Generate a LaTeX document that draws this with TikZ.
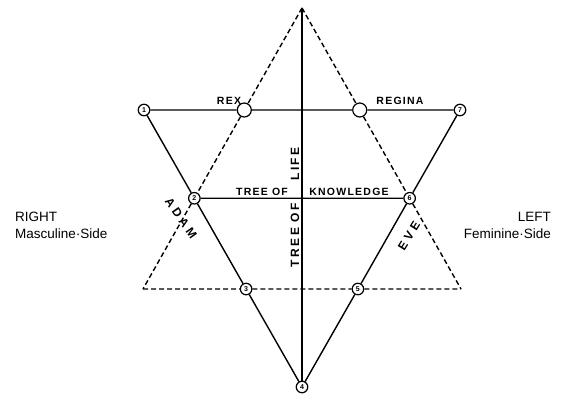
\documentclass[tikz,border=0pt]{standalone}
\usepackage{fontspec}
\setmainfont{Liberation Sans}
\newfontfamily\starfont[LetterSpace=12]{Liberation Sans}
\newfontfamily\lifefont[LetterSpace=20]{Liberation Sans}
\newfontfamily\namefont[LetterSpace=28]{Liberation Sans}

\begin{document}
\begin{tikzpicture}[x=1pt,y=-1pt,
 num/.style={draw,circle,line width=1.2pt,inner sep=0pt,minimum size=11.5pt,font=\fontsize{7}{7}\selectfont\bfseries},
 ring/.style={draw,circle,line width=1.2pt,inner sep=0pt,minimum size=14pt},
 solidline/.style={line width=1.4pt},
 dashline/.style={line width=1.4pt,dash pattern=on 5pt off 3pt},
 lbl/.style={font=\starfont\bfseries\fontsize{10.5}{10.5}\selectfont,inner sep=0pt},
 lifelbl/.style={font=\lifefont\bfseries\fontsize{12}{12}\selectfont,inner sep=0pt,rotate=90},
 namelbl/.style={font=\namefont\bfseries\fontsize{12}{12}\selectfont,inner sep=0pt},
 side/.style={font=\fontsize{13.5}{17}\selectfont,inner sep=0pt}]
 \useasboundingbox (0,0) rectangle (566,415);
 % corners of the two triangles
 \coordinate (top) at (302,8);
 \coordinate (bl) at (143,289);
 \coordinate (br) at (461,289);
 \coordinate (c1) at (144,110);
 \coordinate (c7) at (460,110);
 \coordinate (c4) at (302,387);
 % numbered points
 \node[num] (n1) at (c1) {1};
 \node[num] (n7) at (c7) {7};
 \node[num] (n4) at (c4) {4};
 \node[num] (n2) at (intersection of top--bl and c1--c4) {2};
 \node[num] (n6) at (intersection of top--br and c7--c4) {6};
 \node[num] (n3) at (intersection of bl--br and c1--c4) {3};
 \node[num] (n5) at (intersection of bl--br and c7--c4) {5};
 \node[ring] (rex) at (intersection of top--bl and c1--c7) {};
 \node[ring] (regina) at (intersection of top--br and c1--c7) {};
 % solid triangle
 \draw[solidline] (n1)--(rex)--(regina)--(n7);
 \draw[solidline] (n1)--(n2)--(n3)--(n4);
 \draw[solidline] (n7)--(n6)--(n5)--(n4);
 \draw[solidline] (n2)--(n6);
 \draw[solidline] (top)--(n4);
 % dashed triangle
 \draw[dashline] (top)--(rex)--(n2)--(bl);
 \draw[dashline] (top)--(regina)--(n6)--(br);
 \draw[dashline] (bl)--(n3)--(n5)--(br);
 % labels
 \node[lbl] (rexlbl) at (229,101) {REX};
 \node[lbl] (reginalbl) at (400,101) {REGINA};
 \node[lbl] (treeof) at (262,192) {TREE OF};
 \node[lbl] (knowledge) at (349,192) {KNOWLEDGE};
 \node[lifelbl] (lifetree) at (295,235) {TREE OF};
 \node[lifelbl] (life) at (295,164) {LIFE};
 \node[namelbl,rotate=-55] (adam) at (181,218) {ADAM};
 \node[namelbl,rotate=58] (eve) at (409,236) {EVE};
 \node[side,anchor=west,align=left] (right) at (15,225) {RIGHT\\Masculine·Side};
 \node[side,anchor=east,align=right] (left) at (551,225) {LEFT\\Feminine·Side};
\end{tikzpicture}
\end{document}
